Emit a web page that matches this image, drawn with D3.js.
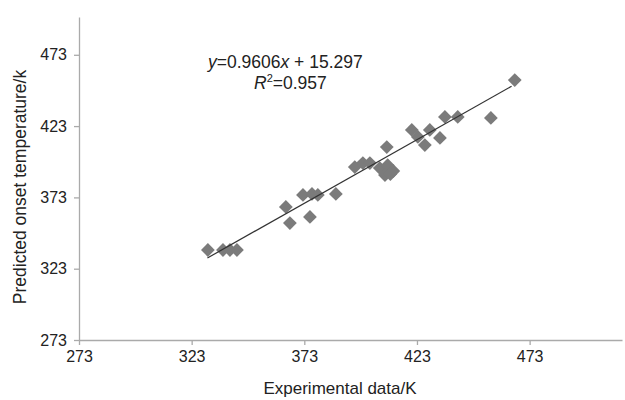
<!DOCTYPE html>
<html>
<head>
<meta charset="utf-8">
<script src="https://cdn.jsdelivr.net/npm/d3@7"></script>
<style>
  body { margin: 0; background: #fff; }
  text { font-family: "Liberation Sans", Arial, sans-serif; fill: #222; }
</style>
</head>
<body>
<svg id="chart"></svg>
<script>
// Data
const experimental = [330.2, 336.9, 340.0, 343.1, 364.8, 366.6, 375.5, 372.4, 376.4, 379.0,
  387.0, 395.4, 399.0, 402.1, 406.5, 410.0, 412.5, 408.8, 411.2, 409.6,
  420.7, 423.4, 426.5, 428.7, 433.2, 435.4, 441.1, 455.8, 466.4];
const predicted = [336.1, 336.1, 336.1, 336.1, 366.3, 355.0, 359.3, 374.7, 375.4, 374.7,
  375.4, 394.3, 397.1, 397.1, 393.6, 395.6, 391.5, 388.7, 389.4, 408.3,
  420.3, 415.4, 409.7, 420.3, 414.7, 429.4, 429.4, 428.7, 455.3];
const trendX = [330, 465];
const trendY = [330.5, 451];
const ticks = [273, 323, 373, 423, 473];

const width = 625, height = 400;

const svg = d3.select("#chart")
  .attr("width", width)
  .attr("height", height);

const x = d3.scaleLinear().domain([273, 514]).range([79, 622]);
const y = d3.scaleLinear().domain([273, 499.5]).range([340, 17]);

// Axes
const xAxis = svg.append("g")
  .attr("transform", "translate(0,340)")
  .call(d3.axisBottom(x).tickValues(ticks).tickSize(5).tickPadding(6).tickSizeOuter(0));
const yAxis = svg.append("g")
  .attr("transform", "translate(79,0)")
  .call(d3.axisLeft(y).tickValues(ticks).tickSize(5).tickPadding(7).tickSizeOuter(0));

[xAxis, yAxis].forEach(g => {
  g.selectAll("path, line").attr("stroke", "#aaa").attr("stroke-width", 1.3);
  g.selectAll("text").style("font-size", "16px").attr("fill", "#222");
});

// Axis titles
svg.append("text")
  .attr("x", 340).attr("y", 394)
  .attr("text-anchor", "middle")
  .style("font-size", "17px")
  .text("Experimental data/K");

svg.append("text")
  .attr("transform", "translate(26,187) rotate(-90)")
  .attr("text-anchor", "middle")
  .style("font-size", "17.5px")
  .text("Predicted onset temperature/k");

// Points
const diamond = d3.symbol().type(d3.symbolSquare).size(95);
svg.append("g")
  .selectAll("path")
  .data(experimental)
  .enter().append("path")
  .attr("d", diamond)
  .attr("transform", (d, i) => `translate(${x(d)},${y(predicted[i])}) rotate(45)`)
  .attr("fill", "#7b7b7b");

// Trend line
const trend = trendX.map((d, i) => [d, trendY[i]]);
svg.append("path")
  .datum(trend)
  .attr("d", d3.line().x(d => x(d[0])).y(d => y(d[1])))
  .attr("stroke", "#333")
  .attr("stroke-width", 1.2)
  .attr("fill", "none");

// Equation label
const eq = svg.append("text")
  .attr("x", 208).attr("y", 68)
  .style("font-size", "17.5px");
eq.append("tspan").style("font-style", "italic").text("y");
eq.append("tspan").text("=0.9606");
eq.append("tspan").style("font-style", "italic").text("x");
eq.append("tspan").text(" + 15.297");

const r2 = svg.append("text")
  .attr("x", 254).attr("y", 89)
  .style("font-size", "17.5px");
r2.append("tspan").style("font-style", "italic").text("R");
r2.append("tspan").attr("dy", -7).style("font-size", "11px").text("2");
r2.append("tspan").attr("dy", 7).text("=0.957");
</script>
</body>
</html>
